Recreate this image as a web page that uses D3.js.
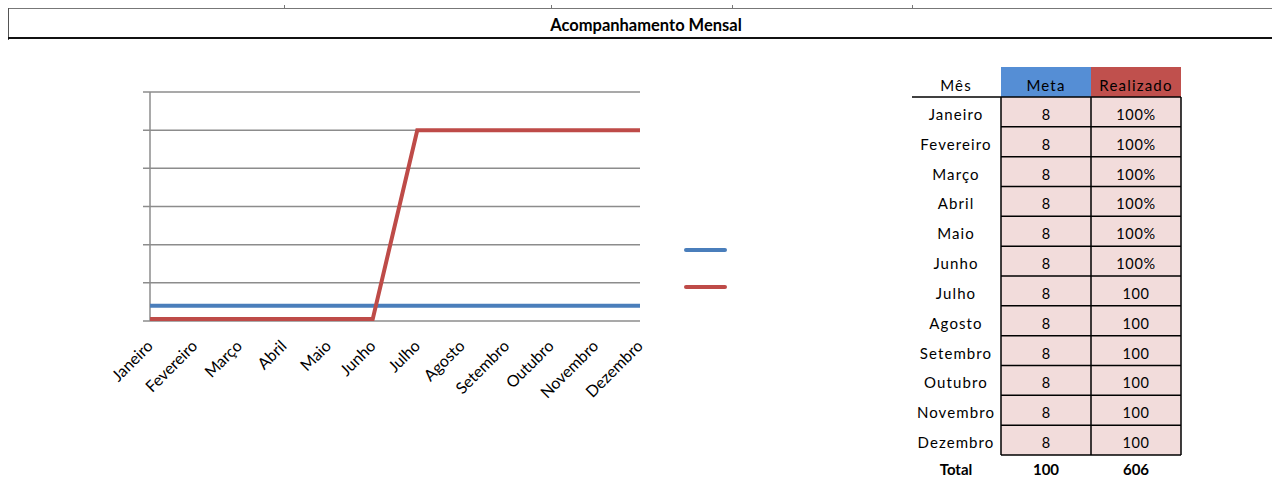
<!DOCTYPE html>
<html><head><meta charset="utf-8">
<script src="https://cdn.jsdelivr.net/npm/d3@7"></script>
<style>body{margin:0;background:#fff;}svg{display:block;font-family:Lato,"Open Sans",sans-serif;}</style>
</head><body><svg id="c" width="1272" height="480"></svg>
<script>
const months = ["Janeiro","Fevereiro","Março","Abril","Maio","Junho","Julho","Agosto","Setembro","Outubro","Novembro","Dezembro"];
const meta = [8,8,8,8,8,8,8,8,8,8,8,8];
const realizado = [1,1,1,1,1,1,100,100,100,100,100,100];
const realizadoLabels = ["100%","100%","100%","100%","100%","100%","100","100","100","100","100","100"];
const yTicks = [0,20,40,60,80,100,120];
const totals = ["Total","100","606"];
const headers = ["Mês","Meta","Realizado"];

const svg = d3.select("#c");
// title band
svg.append("line").attr("x1",8).attr("x2",1272).attr("y1",8.5).attr("y2",8.5).attr("stroke","#777").attr("stroke-width",1);
[284,551,732,912].forEach(x=>svg.append("line").attr("x1",x+.5).attr("x2",x+.5).attr("y1",5).attr("y2",9).attr("stroke","#777"));
svg.append("line").attr("x1",8.5).attr("x2",8.5).attr("y1",8).attr("y2",40).attr("stroke","#555");
svg.append("line").attr("x1",8).attr("x2",1272).attr("y1",38).attr("y2",38).attr("stroke","#111").attr("stroke-width",2);
svg.append("text").attr("x",646).attr("y",31).attr("text-anchor","middle").attr("font-size",16.5).attr("font-weight","bold").text("Acompanhamento Mensal");

// chart
const x = d3.scalePoint().domain(months).range([150,640]);
const y = d3.scaleLinear().domain([0,120]).range([321,92]);
const grid = svg.append("g");
grid.selectAll("line").data(yTicks).join("line")
  .attr("x1",143).attr("x2",640).attr("y1",d=>y(d)).attr("y2",d=>y(d))
  .attr("stroke","#8c8c8c").attr("stroke-width",1.5);
svg.append("line").attr("x1",150).attr("x2",150).attr("y1",y(120)).attr("y2",y(0)).attr("stroke","#8c8c8c").attr("stroke-width",1.5);

const line = d3.line().x((d,i)=>x(months[i])).y(d=>y(d));
svg.append("path").datum(meta).attr("d",line).attr("fill","none").attr("stroke","#4a7ebb").attr("stroke-width",4);
svg.append("path").datum(realizado).attr("d",line).attr("fill","none").attr("stroke","#be4b48").attr("stroke-width",4);

svg.append("g").selectAll("text").data(months).join("text")
  .attr("transform",d=>`translate(${x(d)+4},${347}) rotate(-45)`)
  .attr("text-anchor","end").attr("font-size",16).attr("fill","#000").text(d=>d);

// legend
svg.append("line").attr("x1",686).attr("x2",725).attr("y1",250).attr("y2",250).attr("stroke","#4a7ebb").attr("stroke-width",4).attr("stroke-linecap","round");
svg.append("line").attr("x1",686).attr("x2",725).attr("y1",287).attr("y2",287).attr("stroke","#be4b48").attr("stroke-width",4).attr("stroke-linecap","round");

// table
const colC = [956,1046,1136];
const rowY = d3.scaleBand().domain(months).range([97,455]);
svg.append("rect").attr("x",1001).attr("y",67).attr("width",90).attr("height",30).attr("fill","#558ed5");
svg.append("rect").attr("x",1091).attr("y",67).attr("width",90).attr("height",30).attr("fill","#c0504d");
svg.selectAll(".hd").data(headers).join("text").attr("class","hd")
  .attr("x",(d,i)=>colC[i]).attr("y",91).attr("text-anchor","middle").attr("font-size",15).attr("letter-spacing",1.2).text(d=>d);
const rows = svg.append("g").selectAll("g").data(months).join("g").attr("transform",d=>`translate(0,${rowY(d)})`);
rows.append("rect").attr("x",1001).attr("width",180).attr("height",rowY.bandwidth()).attr("fill","#f2dcdb");
rows.append("text").attr("x",colC[0]).attr("y",rowY.bandwidth()/2+8).attr("text-anchor","middle").attr("font-size",15).attr("letter-spacing",1.1).text(d=>d);
rows.append("text").attr("x",colC[1]).attr("y",rowY.bandwidth()/2+8).attr("text-anchor","middle").attr("font-size",14.5).text((d,i)=>meta[i]);
rows.append("text").attr("x",colC[2]).attr("y",rowY.bandwidth()/2+8).attr("text-anchor","middle").attr("font-size",14.5).attr("letter-spacing",0.6).text((d,i)=>realizadoLabels[i]);
months.forEach(m=>{
  svg.append("line").attr("x1",1001).attr("x2",1181).attr("y1",rowY(m)+rowY.bandwidth()).attr("y2",rowY(m)+rowY.bandwidth()).attr("stroke","#000").attr("stroke-width",1.5);
});
svg.append("line").attr("x1",912).attr("x2",1181).attr("y1",97).attr("y2",97).attr("stroke","#000").attr("stroke-width",1.5);
[1001,1091,1181].forEach(xx=>svg.append("line").attr("x1",xx).attr("x2",xx).attr("y1",97).attr("y2",455).attr("stroke","#000").attr("stroke-width",1.5));
svg.selectAll(".tot").data(totals).join("text").attr("class","tot")
  .attr("x",(d,i)=>colC[i]).attr("y",475).attr("text-anchor","middle").attr("font-size",15).attr("font-weight","bold").text(d=>d);
</script></body></html>
